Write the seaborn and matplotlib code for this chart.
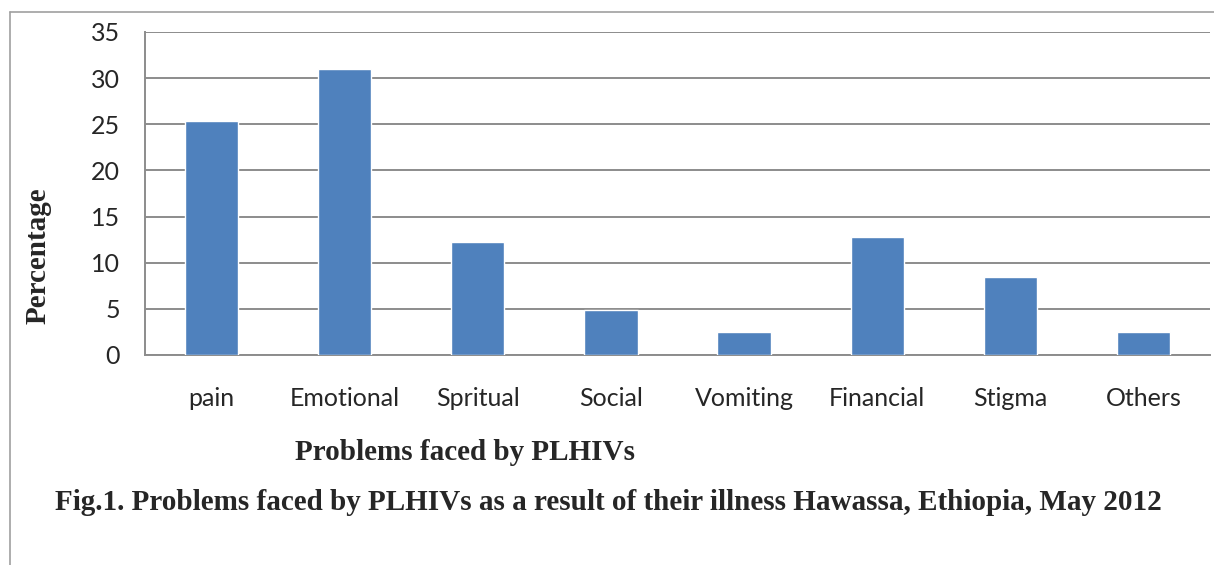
import matplotlib
matplotlib.use("Agg")
import matplotlib.pyplot as plt
import seaborn as sns
import pandas as pd
import numpy as np
from matplotlib.lines import Line2D

# =====================================
# Data
# =====================================
problems = ["pain", "Emotional", "Spritual", "Social",
            "Vomiting", "Financial", "Stigma", "Others"]
percentage = [25.4, 31.0, 12.2, 4.9, 2.5, 12.8, 8.5, 2.5]
y_ticks = [0, 5, 10, 15, 20, 25, 30, 35]

df = pd.DataFrame({"Problem": problems, "Percentage": percentage})

sns.set_style("white")
grid_col = "#8c8c8c"

fig = plt.figure(figsize=(12.14, 5.65), dpi=100)
ax = fig.add_axes([0.1194, 0.3717, 0.8773, 0.5717])

sns.barplot(data=df, x="Problem", y="Percentage", color="#4F81BD",
            width=0.4, saturation=1, ax=ax, zorder=3)

ax.set_ylim(0, 35)
ax.set_xlim(-0.5, len(problems) - 0.5)
ax.set_yticks(y_ticks)
ax.yaxis.grid(True, color=grid_col, linewidth=1.4)
ax.set_axisbelow(True)

# category boundary ticks on x axis
ax.set_xticks(np.arange(-0.5, len(problems), 1.0), minor=True)
ax.tick_params(axis="x", which="major", length=0, pad=23)
ax.tick_params(axis="x", which="minor", length=7, width=1.4, color=grid_col)
ax.tick_params(axis="y", length=7, width=1.4, color=grid_col, pad=11)

for lab in ax.get_xticklabels() + ax.get_yticklabels():
    lab.set_fontfamily("Lato")
    lab.set_fontsize(18)

for s in ["top", "right"]:
    ax.spines[s].set_visible(False)
for s in ["left", "bottom"]:
    ax.spines[s].set_color(grid_col)
    ax.spines[s].set_linewidth(1.4)

ax.set_ylabel("Percentage", fontfamily="Liberation Serif", fontweight="bold",
              fontsize=21)
ax.yaxis.set_label_coords(-0.0875, 0.306)
ax.set_xlabel("")

fig.text(0.383, 0.199, "Problems faced by PLHIVs", fontfamily="Liberation Serif",
         fontweight="bold", fontsize=21, ha="center", va="center")
fig.text(0.501, 0.110,
         "Fig.1. Problems faced by PLHIVs as a result of their illness Hawassa, Ethiopia, May 2012",
         fontfamily="Liberation Serif", fontweight="bold", fontsize=21,
         ha="center", va="center")

# outer frame lines (left and top)
fig.add_artist(Line2D([0.0085, 0.0085], [0.0, 0.979], color="#a0a0a0", lw=1.2))
fig.add_artist(Line2D([0.0085, 1.0], [0.979, 0.979], color="#a0a0a0", lw=1.2))

plt.savefig("out.png", dpi=100)
plt.close()
